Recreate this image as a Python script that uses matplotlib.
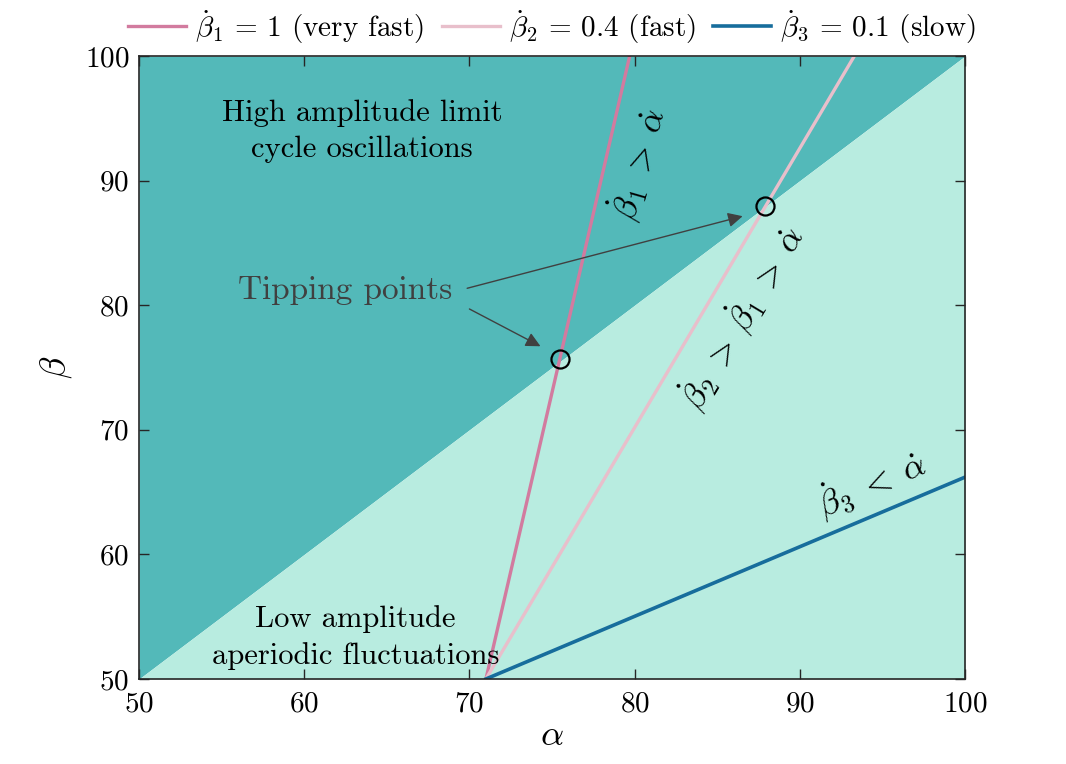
import matplotlib
matplotlib.use("Agg")
import matplotlib.pyplot as plt

plt.rcParams['font.family'] = 'serif'
plt.rcParams['font.serif'] = ['cmr10']
plt.rcParams['mathtext.fontset'] = 'cm'
plt.rcParams['axes.formatter.use_mathtext'] = True

# grenselinje mellom de to regimene
grense_a = [50, 100]
grense_b = [50, 100]

# linjene for de tre hastighetene
a1 = [71, 79.7]
b1 = [50, 100]
a2 = [71, 93.3]
b2 = [50, 100]
a3 = [71, 100]
b3 = [50, 66.2]

# vippepunkter
tip_a = [75.5, 87.9]
tip_b = [75.7, 88.0]

mork = '#53b9b9'
lys = '#b8ece0'

fig = plt.figure(figsize=(10.66, 7.64), dpi=100)
ax = fig.add_axes([0.1304, 0.1113, 0.7749, 0.8154])

ax.fill_between(grense_a, grense_b, 100, color=mork, lw=0)
ax.fill_between(grense_a, 50, grense_b, color=lys, lw=0)

ax.plot(a1, b1, color='#d27b9f', lw=2.4, label=r'$\dot{\beta}_1$ = 1 (very fast)')
ax.plot(a2, b2, color='#e8bfcb', lw=2.4, label=r'$\dot{\beta}_2$ = 0.4 (fast)')
ax.plot(a3, b3, color='#176d9c', lw=2.6, label=r'$\dot{\beta}_3$ = 0.1 (slow)')

ax.plot(tip_a, tip_b, 'o', mfc='none', mec='black', ms=13, mew=1.6)

ax.text(63.5, 94.0, 'High amplitude limit\ncycle oscillations', fontsize=22,
        ha='center', va='center', linespacing=1.4)
ax.text(63.1, 53.3, 'Low amplitude\naperiodic fluctuations', fontsize=22,
        ha='center', va='center', linespacing=1.4)

ax.text(80.2, 91.3, r'$\dot{\beta}_1\;>\;\dot{\alpha}$', fontsize=25,
        rotation=74, ha='center', va='center')
ax.text(86.5, 79.0, r'$\dot{\beta}_2\;>\;\dot{\beta}_1\;>\;\dot{\alpha}$', fontsize=25,
        rotation=59, ha='center', va='center')
ax.text(94.3, 65.7, r'$\dot{\beta}_3\;<\;\dot{\alpha}$', fontsize=25,
        rotation=23, ha='center', va='center')

pil = dict(arrowstyle='-|>', color='#404040', lw=1.0, mutation_scale=22)
ax.text(62.5, 81.2, 'Tipping points', fontsize=24, color='#404040',
        ha='center', va='center')
ax.annotate('', xy=(86.7, 87.2), xytext=(69.7, 81.3), arrowprops=pil)
ax.annotate('', xy=(74.45, 76.6), xytext=(69.85, 79.8), arrowprops=pil)

ax.set_xlim(50, 100)
ax.set_ylim(50, 100)
ax.set_xticks([50, 60, 70, 80, 90, 100])
ax.set_yticks([50, 60, 70, 80, 90, 100])
ax.tick_params(direction='in', top=True, right=True, labelsize=21, length=7,
               width=1, color='#262626')
ax.tick_params(axis='x', pad=9)
ax.tick_params(axis='y', pad=7)
for s in ax.spines.values():
    s.set_color('#262626')
    s.set_linewidth(1.2)
ax.set_xlabel(r'$\alpha$', fontsize=26, labelpad=2)
ax.set_ylabel(r'$\beta$', fontsize=26, labelpad=8)

ax.legend(loc='center', bbox_to_anchor=(0.5, 1.047), ncol=3, frameon=False,
          fontsize=21, handlelength=2.0, handletextpad=0.3, columnspacing=0.6,
          borderaxespad=0)

fig.savefig('out.png', dpi=100)
